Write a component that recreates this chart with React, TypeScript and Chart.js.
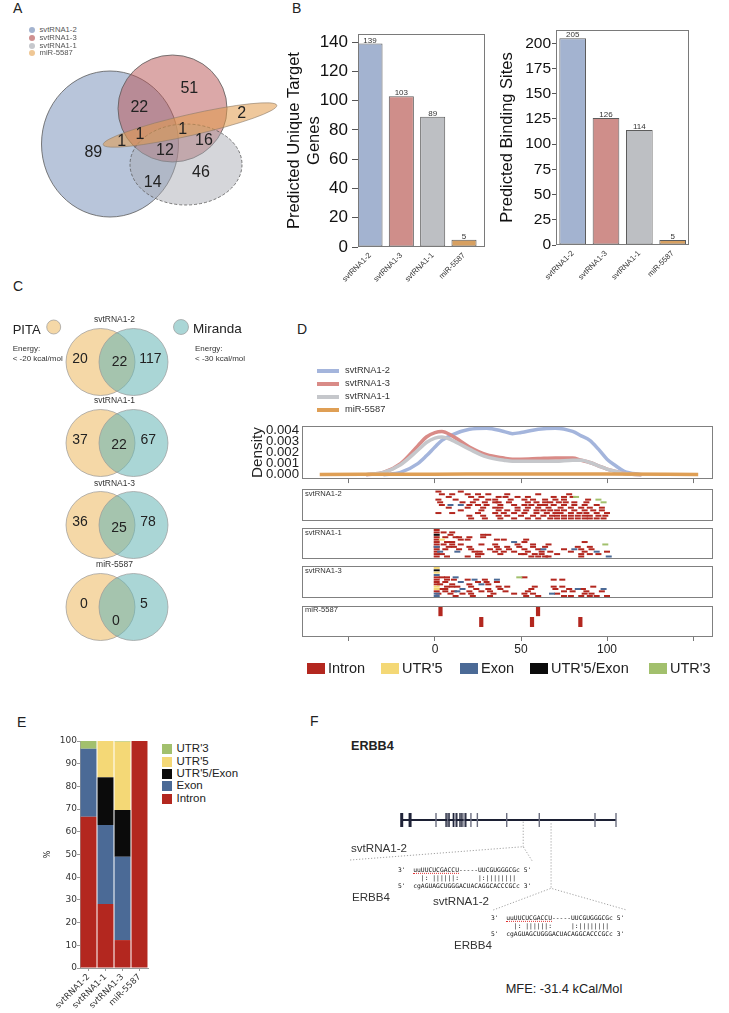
import React, { useEffect, useRef } from "react";
import { Chart, registerables } from "chart.js";

Chart.register(...registerables);

const SANS = "'Liberation Sans', Arial, Helvetica, sans-serif";
const DEJAVU = "'DejaVu Sans', Verdana, sans-serif";
const MONO = "'DejaVu Sans Mono', 'Liberation Mono', monospace";
Chart.defaults.font.family = SANS;
Chart.defaults.color = "#222";

/* ======================= DATA ======================= */
// Panel B
const mirnas = ["svtRNA1-2", "svtRNA1-3", "svtRNA1-1", "miR-5587"];
const uniqueTargetGenes = [139, 103, 89, 5];
const predictedBindingSites = [205, 126, 114, 5];

// Panel A (Venn region counts)
const vennARegions = [
  "svtRNA1-2", "svtRNA1-2&svtRNA1-3", "svtRNA1-3", "miR-5587", "svtRNA1-2&miR-5587",
  "svtRNA1-2&svtRNA1-3&miR-5587", "svtRNA1-3&svtRNA1-1&miR-5587", "svtRNA1-2&svtRNA1-3&svtRNA1-1",
  "svtRNA1-3&svtRNA1-1", "svtRNA1-2&svtRNA1-1", "svtRNA1-1",
];
const vennACounts = [89, 22, 51, 2, 1, 1, 1, 12, 16, 14, 46];

// Panel C (PITA vs Miranda)
const vennCTitles = ["svtRNA1-2", "svtRNA1-1", "svtRNA1-3", "miR-5587"];
const pitaOnly = [20, 37, 36, 0];
const pitaAndMiranda = [22, 22, 25, 0];
const mirandaOnly = [117, 67, 78, 5];

// Panel D density (position % of gene)
const densityX = [-40, -30, -20, -10, -5, 0, 4, 10, 20, 30, 40, 45, 50, 60, 70, 80, 85, 90, 95, 100, 105, 110, 120];
const densitySvt12 = [null, 0, 0.0002, 0.001, 0.0017, 0.0025, 0.0031, 0.0036, 0.0041, 0.0042, 0.0039, 0.0037, 0.0038, 0.0041, 0.0042, 0.0039, 0.0035, 0.0031, 0.0023, 0.0014, 0.0008, 0.0003, 0];
const densitySvt13 = [0, 0.0002, 0.001, 0.0026, 0.0034, 0.0038, 0.0039, 0.0035, 0.0025, 0.0018, 0.0015, 0.0014, 0.0014, 0.00145, 0.0015, 0.0015, 0.0013, 0.0011, 0.0008, 0.0005, 0.0003, 0.0001, 0];
const densitySvt11 = [0, 0.0002, 0.0009, 0.0022, 0.0029, 0.0033, 0.0034, 0.0031, 0.0023, 0.0016, 0.0013, 0.0012, 0.0012, 0.0012, 0.0012, 0.0013, 0.0013, 0.0011, 0.0008, 0.0005, 0.0003, 0.0001, 0];
const densityMirX = [-67, 0, 50, 100, 153];
const densityMir = [0.00002, 0.00004, 0.00006, 0.00005, 0.00002];

// Panel D binding-site tracks: intron sites per lane, other features as [position, lane]
const svt12Intron = [
  [2, 15],
  [4, 10, 19, 25, 31, 42, 60, 78],
  [8, 21, 27, 37, 41, 48, 54, 69, 75, 80],
  [2, 12, 24, 31, 35, 44, 52, 57, 64, 70, 75, 89],
  [3, 16, 22, 29, 35, 37, 43, 54, 59, 64, 67, 72, 76, 81, 88],
  [4, 20, 25, 30, 38, 46, 52, 56, 61, 64, 69, 75, 81, 87, 94],
  [8, 19, 28, 35, 38, 48, 54, 60, 66, 73, 79, 85, 90, 97],
  [15, 27, 37, 42, 48, 53, 59, 63, 67, 71, 75, 81, 87, 92, 97],
  [2, 10, 25, 35, 40, 46, 52, 59, 65, 70, 73, 79, 84, 88, 94, 100],
  [20, 28, 37, 42, 50, 57, 63, 68, 71, 75, 79, 83, 87, 90, 95, 99],
  [21, 29, 38, 46, 54, 60, 67, 71, 75, 79, 83, 87, 90, 94, 98],
];
const svt12Exon = [[9, 5], [15, 5]];
const svt12Utr3 = [[82, 2], [95, 3], [98, 4]];

const svt11Intron = [
  [1],
  [1, 5, 10],
  [9, 28, 31],
  [1, 6, 12, 14, 20, 28],
  [1, 15, 19, 36, 40, 53],
  [1, 7, 10, 52, 87],
  [1, 5, 10, 15, 27, 35, 48, 57, 66],
  [1, 8, 11, 20, 36, 42, 49, 57, 64, 83, 90],
  [1, 6, 14, 21, 32, 37, 43, 52, 60, 75, 85, 91],
  [1, 23, 26, 35, 40, 46, 54, 62, 67, 79, 87, 100],
  [1, 4, 25, 27, 38, 50, 52, 58, 62, 71, 85, 90, 95],
  [1, 7, 19, 25, 56, 60, 64, 66, 85],
];
const svt11Exon = [[46, 5], [1, 7], [63, 8], [81, 8], [3, 9], [13, 9], [94, 9], [101, 11]];
const svt11Utr5Exon = [[1, 2]];
const svt11Utr5 = [[4, 4]];
const svt11Utr3 = [[99, 6]];

const svt13Intron = [
  [], [], [], [],
  [1, 4, 7, 52],
  [1, 7, 11, 19, 29, 69, 74],
  [1, 6, 25, 30, 36],
  [1, 3, 10, 20, 31],
  [7, 10, 13, 21, 37, 42, 58, 69, 74, 92],
  [3, 6, 24, 31, 38, 56, 70, 78, 86],
  [1, 6, 11, 20, 27, 32, 41, 54, 75, 80, 88, 97],
  [2, 9, 16, 21, 34, 46, 52, 57, 71, 87, 91],
  [12, 22, 32, 53, 60, 75, 79, 85, 90, 94, 100],
];
const svt13Exon = [[1, 3], [12, 4], [23, 5], [36, 5], [15, 6], [27, 7], [16, 9], [83, 9], [98, 9], [13, 10], [1, 11], [68, 11], [1, 12]];
const svt13Utr5Exon = [[1, 1]];
const svt13Utr5 = [[1, 0], [1, 2], [1, 8], [1, 9]];
const svt13Utr3 = [[49, 4]];

const mirIntron = [
  [3.2, 59.9],
  [26.9, 56.4, 84.5],
];

// Panel E (% of binding sites by gene region)
const regionTargets = ["svtRNA1-2", "svtRNA1-1", "svtRNA1-3", "miR-5587"];
const pctIntron = [66.6, 28.2, 12.3, 100];
const pctExon = [30, 34.8, 36.7, 0];
const pctUtr5Exon = [0, 21, 20.6, 0];
const pctUtr5 = [0, 16, 30.1, 0];
const pctUtr3 = [3.4, 0, 0.3, 0];

// Panel F (ERBB4 gene model, relative coordinates 0-1000)
const erbb4Exons = [0, 39, 160, 207, 215, 221, 241, 249, 257, 272, 281, 291, 299, 323, 353, 490, 642, 902, 1000];
const erbb4Sites = [567, 697];

/* ======================= STYLES ======================= */
const mirnaColors = ["#a3b3d0", "#cf8e8a", "#bdbfc3", "#d7a061"];
const densityColors = ["#a4b5dc", "#d98b87", "#c5c7cb", "#df9f55"];
const featureNames = ["Intron", "UTR'5", "Exon", "UTR'5/Exon", "UTR'3"];
const featureColors: Record<string, string> = {
  Intron: "#b3271f",
  "UTR'5": "#f4d876",
  Exon: "#4b6a96",
  "UTR'5/Exon": "#0b0b0b",
  "UTR'3": "#a2c06d",
};
const X_MIN = -77.3;
const X_MAX = 161.6;

/* ======================= HELPERS ======================= */
const baseOpts = () => ({
  responsive: false,
  animation: false,
  devicePixelRatio: 1,
  events: [],
  plugins: { legend: { display: false }, tooltip: { enabled: false } },
});

const frame = (color = "#808080", lw = 1) => ({
  id: "frame",
  afterDraw(chart: any) {
    const { ctx, chartArea: a } = chart;
    ctx.save();
    ctx.strokeStyle = color;
    ctx.lineWidth = lw;
    ctx.setLineDash([]);
    ctx.strokeRect(Math.round(a.left) + 0.5, Math.round(a.top) + 0.5, Math.round(a.right - a.left) - 1, Math.round(a.bottom - a.top) - 1);
    ctx.restore();
  },
});

const barValuePlugin = {
  id: "barValues",
  afterDatasetsDraw(chart: any) {
    const { ctx } = chart;
    const meta = chart.getDatasetMeta(0);
    const ds = chart.data.datasets[0];
    ctx.save();
    ctx.font = `8px ${SANS}`;
    ctx.fillStyle = "#333";
    ctx.textAlign = "center";
    ctx.textBaseline = "alphabetic";
    meta.data.forEach((el: any, i: number) => {
      ctx.fillText(String(ds.data[i].y), el.x, el.y - 1);
    });
    ctx.restore();
  },
};

function ellipsePlugin(shapes: any[]) {
  return {
    id: "ellipses",
    beforeDatasetsDraw(chart: any) {
      const { ctx, scales } = chart;
      const sx = scales.x;
      const sy = scales.y;
      shapes.forEach((s) => {
        const cx = sx.getPixelForValue(s.cx);
        const cy = sy.getPixelForValue(s.cy);
        const rx = Math.abs(sx.getPixelForValue(s.cx + s.rx) - cx);
        const ry = Math.abs(sy.getPixelForValue(s.cy + s.ry) - cy);
        ctx.save();
        ctx.beginPath();
        ctx.ellipse(cx, cy, rx, ry, ((s.rot || 0) * Math.PI) / 180, 0, Math.PI * 2);
        ctx.fillStyle = s.fill;
        ctx.fill();
        if (s.stroke) {
          ctx.lineWidth = s.lw || 0.8;
          ctx.strokeStyle = s.stroke;
          ctx.setLineDash(s.dash || []);
          ctx.stroke();
        }
        ctx.restore();
      });
    },
  };
}

const pointTextPlugin = {
  id: "pointText",
  afterDatasetsDraw(chart: any) {
    const { ctx } = chart;
    chart.data.datasets.forEach((ds: any, di: number) => {
      if (!ds.texts) return;
      const meta = chart.getDatasetMeta(di);
      ctx.save();
      ctx.fillStyle = ds.textColor || "#222";
      ctx.textAlign = "center";
      ctx.textBaseline = "middle";
      meta.data.forEach((el: any, i: number) => {
        ctx.font = `${ds.textSize}px ${SANS}`;
        ctx.fillText(String(ds.texts[i]), el.x, el.y);
      });
      ctx.restore();
    });
  },
};

function ChartBox({ x, y, w, h, make }: { x: number; y: number; w: number; h: number; make: () => any }) {
  const ref = useRef<HTMLCanvasElement | null>(null);
  useEffect(() => {
    const c = ref.current;
    if (!c) return;
    const chart = new Chart(c, make());
    return () => chart.destroy();
  }, []);
  return <canvas ref={ref} width={w} height={h} style={{ position: "absolute", left: x, top: y, width: w, height: h }} />;
}

function T({ x, y, s, children, a = "l", w = 400, f = SANS, c = "#222" }: any) {
  const tx = a === "c" ? "-50%" : a === "r" ? "-100%" : "0";
  return (
    <div
      style={{
        position: "absolute",
        left: x,
        top: y,
        transform: `translate(${tx}, -50%)`,
        fontSize: s,
        fontFamily: f,
        fontWeight: w,
        color: c,
        whiteSpace: "pre",
        lineHeight: 1,
      }}
    >
      {children}
    </div>
  );
}

/* ======================= CHART CONFIGS ======================= */
function barBConfig(values: number[], p: any) {
  return {
    type: "bar",
    data: {
      datasets: [
        {
          data: values.map((v, i) => ({ x: i, y: v })),
          backgroundColor: mirnaColors,
          borderColor: "#5c5c5c",
          borderWidth: 1,
          borderSkipped: false,
          barPercentage: 1,
          categoryPercentage: p.barFrac,
        },
      ],
    },
    options: {
      ...baseOpts(),
      layout: { autoPadding: false, padding: { top: 12, right: p.padRight, left: 0, bottom: 0 } },
      scales: {
        x: {
          type: "linear",
          min: p.xMin,
          max: p.xMax,
          offset: false,
          afterBuildTicks: (s: any) => {
            s.ticks = mirnas.map((_, i) => ({ value: i }));
          },
          afterFit: (s: any) => {
            s.height = 43;
          },
          grid: { display: false, drawTicks: false, offset: false },
          border: { display: false },
          ticks: {
            autoSkip: false,
            minRotation: 45,
            maxRotation: 45,
            padding: 4,
            color: "#333",
            font: { size: 7.7 },
            callback: (v: any) => mirnas[v],
          },
        },
        y: {
          min: 0,
          max: p.yMax,
          afterFit: (s: any) => {
            s.width = p.yW;
          },
          grid: { display: true, drawOnChartArea: false, drawTicks: true, tickLength: p.tickLen, color: "#555" },
          border: { display: false },
          ticks: { autoSkip: false, stepSize: p.step, includeBounds: false, padding: p.tickPad, color: "#111", font: { size: p.tickSize } },
          title: { display: true, text: p.title, color: "#111", font: { size: 16.5 }, padding: { top: p.titlePad, bottom: 0 } },
        },
      },
    },
    plugins: [frame("#7a7a7a"), barValuePlugin],
  };
}

function vennConfig(x0: number, y0: number, w: number, h: number, shapes: any[], pts: number[][], texts: any[], size: number) {
  return {
    type: "scatter",
    data: {
      datasets: [
        {
          data: pts.map(([x, y]) => ({ x, y })),
          pointRadius: 0,
          texts,
          textSize: size,
          textColor: "#222",
        },
      ],
    },
    options: {
      ...baseOpts(),
      layout: { autoPadding: false, padding: 0 },
      scales: {
        x: { type: "linear", display: false, min: x0, max: x0 + w },
        y: { type: "linear", display: false, min: y0, max: y0 + h, reverse: true },
      },
    },
    plugins: [ellipsePlugin(shapes), pointTextPlugin],
  };
}

// Venn A layout (page units)
const vennAShapes = [
  { cx: 110, cy: 144, rx: 68.5, ry: 73, fill: "rgba(118,143,185,0.52)", stroke: "#5a5a5a" },
  { cx: 172.5, cy: 108.5, rx: 54.5, ry: 53.5, fill: "rgba(184,82,82,0.5)", stroke: "#5a5a5a" },
  { cx: 186, cy: 164.5, rx: 56, ry: 40.5, fill: "rgba(168,170,178,0.48)", stroke: "#5a5a5a", dash: [3, 2] },
  { cx: 190, cy: 125, rx: 89, ry: 10.5, rot: -12.8, fill: "rgba(225,155,75,0.55)", stroke: "#8a7a6a", lw: 0.6 },
];
const vennALabelPos = [
  [93.3, 152.7], [139.3, 107.3], [189.3, 88.3], [241.7, 113.3], [121.7, 141.7], [140, 135],
  [182.7, 130], [165, 150.7], [204, 141], [152.7, 182.7], [201, 172.3],
];

// Venn C layout (page units)
const vennCY = [362, 443, 525, 607];
const vennCLeftX = [80, 80, 80, 84];
const vennCMidX = [119.5, 119, 119, 116];
const vennCRightX = [150.3, 148.3, 148, 144];
const vennCMidDy = [0, 2, 3, 14];
const PITA_FILL = "rgba(240,195,120,0.65)";
const MIR_FILL = "rgba(100,180,180,0.55)";
const vennCShapes = [
  { cx: 53.7, cy: 327, rx: 7, ry: 7, fill: PITA_FILL, stroke: "#999", lw: 0.7 },
  { cx: 181, cy: 327, rx: 7.5, ry: 7.5, fill: MIR_FILL, stroke: "#999", lw: 0.7 },
  ...vennCY.flatMap((cy) => [
    { cx: 100.5, cy, rx: 34.5, ry: 33.5, fill: PITA_FILL, stroke: "#999", lw: 0.7 },
    { cx: 133.5, cy, rx: 34.5, ry: 33.5, fill: MIR_FILL, stroke: "#999", lw: 0.7 },
  ]),
];

function densityConfig() {
  const zip = (xs: number[], ys: any[]) => xs.map((x, i) => ({ x, y: ys[i] }));
  const line = (data: any[], color: string) => ({
    data,
    borderColor: color,
    borderWidth: 3.5,
    pointRadius: 0,
    cubicInterpolationMode: "monotone",
    fill: false,
  });
  return {
    type: "line",
    data: {
      datasets: [
        line(zip(densityMirX, densityMir), densityColors[3]),
        line(zip(densityX, densitySvt11), densityColors[2]),
        line(zip(densityX, densitySvt13), densityColors[1]),
        line(zip(densityX, densitySvt12), densityColors[0]),
      ],
    },
    options: {
      ...baseOpts(),
      layout: { autoPadding: false, padding: { top: 9, right: 7, left: 0, bottom: 0 } },
      scales: {
        x: {
          type: "linear",
          min: X_MIN,
          max: X_MAX,
          afterFit: (s: any) => {
            s.height = 8;
          },
          grid: { display: true, drawOnChartArea: false, tickLength: 4, color: "#777" },
          border: { display: false },
          ticks: { autoSkip: false, stepSize: 50, includeBounds: false, callback: () => "" },
        },
        y: {
          min: -0.0004,
          max: 0.0044,
          afterFit: (s: any) => {
            s.width = 62;
          },
          grid: { display: false, drawTicks: false },
          border: { display: false },
          ticks: {
            autoSkip: false,
            stepSize: 0.001,
            includeBounds: false,
            padding: 3,
            color: "#222",
            font: { size: 13.2 },
            callback: (v: any) => Number(v).toFixed(3),
          },
          title: { display: true, text: "Density", color: "#222", font: { size: 15.3 }, padding: { top: 9, bottom: 0 } },
        },
      },
    },
    plugins: [frame("#808080")],
  };
}

function trackConfig(layers: { color: string; pts: number[][] }[], laneMin: number, laneMax: number, axis: boolean, vertical: boolean) {
  return {
    type: "scatter",
    data: {
      datasets: layers.map((l) => ({
        data: l.pts.map(([x, y]) => ({ x, y })),
        pointStyle: "line",
        pointRotation: vertical ? 90 : 0,
        pointRadius: vertical ? 5 : 3,
        pointBorderWidth: vertical ? 4.2 : 2,
        borderColor: l.color,
        pointBorderColor: l.color,
        backgroundColor: l.color,
      })),
    },
    options: {
      ...baseOpts(),
      layout: { autoPadding: false, padding: 0 },
      scales: {
        x: axis
          ? {
              type: "linear",
              min: X_MIN,
              max: X_MAX,
              afterFit: (s: any) => {
                s.height = 18;
              },
              grid: { display: true, drawOnChartArea: false, tickLength: 4, color: "#777" },
              border: { display: false },
              ticks: {
                autoSkip: false,
                stepSize: 50,
                includeBounds: false,
                padding: 1,
                color: "#222",
                font: { size: 12 },
                callback: (v: any) => (v >= 0 && v <= 100 ? String(v) : ""),
              },
            }
          : { type: "linear", min: X_MIN, max: X_MAX, display: false },
        y: { type: "linear", min: laneMin, max: laneMax, reverse: true, display: false },
      },
    },
    plugins: [frame("#808080")],
  };
}

const lanesToPts = (lanes: number[][]) => lanes.flatMap((row, lane) => row.map((x) => [x, lane]));

function stackedConfig() {
  const ds = (label: string, data: number[]) => ({
    label,
    data,
    backgroundColor: featureColors[label],
    borderWidth: 0,
    barPercentage: 0.94,
    categoryPercentage: 1,
  });
  return {
    type: "bar",
    data: {
      labels: regionTargets,
      datasets: [
        ds("Intron", pctIntron),
        ds("Exon", pctExon),
        ds("UTR'5/Exon", pctUtr5Exon),
        ds("UTR'5", pctUtr5),
        ds("UTR'3", pctUtr3),
      ],
    },
    options: {
      ...baseOpts(),
      layout: { autoPadding: false, padding: { top: 11, right: 7, left: 0, bottom: 0 } },
      scales: {
        x: {
          stacked: true,
          afterFit: (s: any) => {
            s.height = 42;
          },
          grid: { display: true, drawOnChartArea: false, tickLength: 3, color: "#9a9a9a", offset: false },
          border: { display: true, color: "#9a9a9a" },
          ticks: { minRotation: 45, maxRotation: 45, autoSkip: false, padding: 1, color: "#333", font: { size: 8.5, family: DEJAVU } },
        },
        y: {
          stacked: true,
          min: 0,
          max: 100,
          afterFit: (s: any) => {
            s.width = 60;
          },
          grid: { display: true, drawOnChartArea: false, tickLength: 3, color: "#9a9a9a" },
          border: { display: true, color: "#9a9a9a" },
          ticks: { autoSkip: false, stepSize: 10, padding: 0, color: "#333", font: { size: 9, family: DEJAVU } },
          title: { display: true, text: "%", color: "#222", font: { size: 8, family: DEJAVU }, padding: { top: 23, bottom: 0 } },
        },
      },
    },
  };
}

// ERBB4 gene model canvas: x = relative gene coordinate, y = layout height
const F_GENE_Y = 95;
const erbb4ExonColors = erbb4Exons.map((_, i) =>
  [0, 1, 3, 5, 6, 8, 9, 10, 12].includes(i) ? "#1f2338" : "#6c6f80"
);
function geneConfig() {
  const line = (pts: number[][], dash: number[], color: string, width: number) => ({
    type: "line",
    showLine: true,
    data: pts.map(([x, y]) => ({ x, y })),
    borderColor: color,
    borderWidth: width,
    borderDash: dash,
    pointRadius: 0,
    tension: 0,
  });
  const DOT = [1.2, 1.8];
  return {
    type: "scatter",
    data: {
      datasets: [
        {
          data: erbb4Exons.map((x) => ({ x, y: F_GENE_Y })),
          pointStyle: "line",
          pointRotation: 90,
          pointRadius: 7,
          pointBorderWidth: erbb4Exons.map((_, i) => (i < 2 ? 3 : 1.4)),
          pointBorderColor: erbb4ExonColors,
          borderColor: erbb4ExonColors,
        },
        line([[0, F_GENE_Y], [1000, F_GENE_Y]], [], "#1c2034", 2.2),
        line([[erbb4Sites[0], F_GENE_Y - 1.7], [erbb4Sites[0], 68.3]], DOT, "#999", 0.9),
        line([[-241, 55], [erbb4Sites[0], 68.3], [611, 53.3]], DOT, "#999", 0.9),
        line([[erbb4Sites[1], F_GENE_Y - 3.3], [erbb4Sites[1], 26.7]], DOT, "#999", 0.9),
        line([[427, 5], [erbb4Sites[1], 26.7], [1050, 5]], DOT, "#999", 0.9),
      ],
    },
    options: {
      ...baseOpts(),
      layout: { autoPadding: false, padding: 0 },
      scales: {
        x: { type: "linear", display: false, min: -288, max: 1112 },
        y: { type: "linear", display: false, min: 0, max: 110 },
      },
    },
  };
}

/* ======================= APP ======================= */
const aLegendColors = ["#a3b3cf", "#cf9090", "#c6c8cd", "#efc795"];
const aLegendNames = ["svtRNA1-2", "svtRNA1-3", "svtRNA1-1", "miR-5587"];
const aLegendY = [30, 38, 45.7, 53.3];
const dLegendNames = ["svtRNA1-2", "svtRNA1-3", "svtRNA1-1", "miR-5587"];
const dLegendY = [371, 384, 397, 410];
const dBottomLegendX = [307, 381, 460, 530, 649];
const eLegendOrder = ["UTR'3", "UTR'5", "UTR'5/Exon", "Exon", "Intron"];
const eLegendY = [749, 761.5, 774, 786.3, 798.7];

function Align({ x, y }: { x: number; y: number }) {
  const s = 6.33;
  return (
    <>
      <T x={x} y={y} s={s} f={MONO} c="#111">
        {"3'  "}
        <span style={{ borderBottom: "1px dotted #e03030" }}>uuUUCUCGACCU</span>
        {"-----UUCGUGGGCGc 5'"}
      </T>
      <T x={x} y={y + 8.3} s={s} f={MONO} c="#111">{"      |: ||||||:     |:|||||||| "}</T>
      <T x={x} y={y + 16.3} s={s} f={MONO} c="#111">{"5'  cgAGUAGCUGGGACUACAGGCACCCGCc 3'"}</T>
    </>
  );
}

export default function App() {
  const vennCPts: number[][] = [];
  const vennCTexts: number[] = [];
  vennCY.forEach((cy, i) => {
    vennCPts.push([vennCLeftX[i], cy - 3], [vennCMidX[i], cy + vennCMidDy[i]], [vennCRightX[i], cy - 3]);
    vennCTexts.push(pitaOnly[i], pitaAndMiranda[i], mirandaOnly[i]);
  });

  return (
    <div style={{ position: "absolute", left: 0, top: 0, width: 729, height: 1013, background: "#fff", overflow: "hidden", fontFamily: SANS }}>
      {/* Panel letters */}
      <T x={13} y={8} s={14}>A</T>
      <T x={292} y={8} s={14}>B</T>
      <T x={13} y={286} s={14}>C</T>
      <T x={297} y={329} s={14}>D</T>
      <T x={17} y={722} s={14}>E</T>
      <T x={310} y={721} s={14}>F</T>

      {/* Panel A */}
      <ChartBox x={0} y={40} w={290} h={200} make={() => vennConfig(0, 40, 290, 200, vennAShapes, vennALabelPos, vennACounts, 16)} />
      {aLegendNames.map((n, i) => (
        <React.Fragment key={n}>
          <div style={{ position: "absolute", left: 28.8, top: aLegendY[i] - 3.2, width: 6.4, height: 6.4, borderRadius: "50%", background: aLegendColors[i] }} />
          <T x={39.5} y={aLegendY[i]} s={7.7} c="#555">{n}</T>
        </React.Fragment>
      ))}

      {/* Panel B */}
      <ChartBox
        x={280}
        y={20}
        w={210}
        h={270}
        make={() =>
          barBConfig(uniqueTargetGenes, {
            xMin: -0.383, xMax: 3.67, barFrac: 0.8, padRight: 5, yMax: 145.4, step: 20, yW: 78,
            tickLen: 6, tickPad: 4, tickSize: 17, title: ["Predicted Unique Target", "Genes"], titlePad: 5,
          })
        }
      />
      <ChartBox
        x={490}
        y={18}
        w={205}
        h={270}
        make={() =>
          barBConfig(predictedBindingSites, {
            xMin: -0.5, xMax: 3.49, barFrac: 0.8, padRight: 6, yMax: 213.2, step: 25, yW: 66,
            tickLen: 4, tickPad: 1, tickSize: 15.5, title: "Predicted Binding Sites", titlePad: 8,
          })
        }
      />

      {/* Panel C */}
      <ChartBox x={0} y={300} w={270} h={350} make={() => vennConfig(0, 300, 270, 350, vennCShapes, vennCPts, vennCTexts, 14)} />
      <T x={12.7} y={328.7} s={13}>PITA</T>
      <T x={193} y={328.5} s={13.5}>Miranda</T>
      <T x={12.7} y={349} s={8} c="#333">Energy:</T>
      <T x={12.7} y={358.5} s={8} c="#333">{"< -20 kcal/mol"}</T>
      <T x={195} y={349} s={8} c="#333">Energy:</T>
      <T x={195} y={358.5} s={8} c="#333">{"< -30 kcal/mol"}</T>
      {vennCTitles.map((t, i) => (
        <T key={t} x={114.5} y={[318.5, 400, 482.5, 563.5][i]} s={8.5} a="c" c="#333">{t}</T>
      ))}

      {/* Panel D */}
      {dLegendNames.map((n, i) => (
        <React.Fragment key={n}>
          <div style={{ position: "absolute", left: 316.5, top: dLegendY[i] - 2, width: 22, height: 4, background: densityColors[i] }} />
          <T x={345} y={dLegendY[i]} s={9.3} c="#333">{n}</T>
        </React.Fragment>
      ))}
      <ChartBox x={240} y={415} w={480} h={75} make={densityConfig} />
      <ChartBox
        x={302}
        y={489}
        w={411}
        h={32}
        make={() =>
          trackConfig(
            [
              { color: featureColors["UTR'3"], pts: svt12Utr3 },
              { color: featureColors["Exon"], pts: svt12Exon },
              { color: featureColors["Intron"], pts: lanesToPts(svt12Intron) },
            ],
            -0.96, 10.96, false, false
          )
        }
      />
      <ChartBox
        x={302}
        y={528}
        w={411}
        h={31}
        make={() =>
          trackConfig(
            [
              { color: featureColors["UTR'3"], pts: svt11Utr3 },
              { color: featureColors["UTR'5"], pts: svt11Utr5 },
              { color: featureColors["UTR'5/Exon"], pts: svt11Utr5Exon },
              { color: featureColors["Exon"], pts: svt11Exon },
              { color: featureColors["Intron"], pts: lanesToPts(svt11Intron) },
            ],
            -0.83, 12.04, false, false
          )
        }
      />
      <ChartBox
        x={302}
        y={566}
        w={411}
        h={32}
        make={() =>
          trackConfig(
            [
              { color: featureColors["UTR'3"], pts: svt13Utr3 },
              { color: featureColors["UTR'5"], pts: svt13Utr5 },
              { color: featureColors["UTR'5/Exon"], pts: svt13Utr5Exon },
              { color: featureColors["Exon"], pts: svt13Exon },
              { color: featureColors["Intron"], pts: lanesToPts(svt13Intron) },
            ],
            -0.86, 12.86, false, false
          )
        }
      />
      <ChartBox
        x={302}
        y={606}
        w={411}
        h={49}
        make={() => trackConfig([{ color: featureColors["Intron"], pts: lanesToPts(mirIntron) }], -0.476, 2.38, true, true)}
      />
      <T x={305} y={493.5} s={7.6} c="#333">svtRNA1-2</T>
      <T x={305} y={533.3} s={7.6} c="#333">svtRNA1-1</T>
      <T x={305} y={571} s={7.6} c="#333">svtRNA1-3</T>
      <T x={305} y={610} s={7.6} c="#333">miR-5587</T>
      {featureNames.map((n, i) => (
        <React.Fragment key={n}>
          <div style={{ position: "absolute", left: dBottomLegendX[i], top: 663, width: 18, height: 10.5, background: featureColors[n] }} />
          <T x={dBottomLegendX[i] + 21} y={668.3} s={14.5} c="#222">{n}</T>
        </React.Fragment>
      ))}

      {/* Panel E */}
      <ChartBox x={20} y={730} w={135} h={280} make={stackedConfig} />
      {eLegendOrder.map((n, i) => (
        <React.Fragment key={n}>
          <div style={{ position: "absolute", left: 162.3, top: eLegendY[i] - 5, width: 10, height: 10, background: featureColors[n] }} />
          <T x={176.5} y={eLegendY[i]} s={11.5} c="#222">{n}</T>
        </React.Fragment>
      ))}

      {/* Panel F */}
      <T x={351} y={745.5} s={12.6} w={700} c="#222">ERBB4</T>
      <ChartBox x={340} y={805} w={300} h={110} make={geneConfig} />
      <T x={351} y={848} s={11.6} c="#333">svtRNA1-2</T>
      <Align x={398} y={869.5} />
      <T x={352} y={897} s={11.6} c="#333">ERBB4</T>
      <T x={433} y={901} s={11.6} c="#333">svtRNA1-2</T>
      <Align x={491} y={917.5} />
      <T x={454} y={945} s={11.6} c="#333">ERBB4</T>
      <T x={505.7} y={988.5} s={12.8} c="#222">MFE: -31.4 kCal/Mol</T>
    </div>
  );
}
